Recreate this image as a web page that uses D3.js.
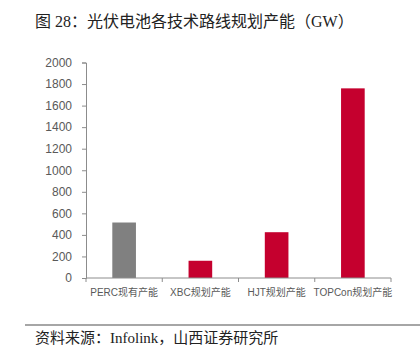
<!DOCTYPE html>
<html>
<head>
<meta charset="utf-8">
<script src="https://cdn.jsdelivr.net/npm/d3@7"></script>
<style>
  body { margin: 0; background: #fff; }
  svg { display: block; }
</style>
</head>
<body>
<div id="chart"></div>
<script>
// data
const categories = ["PERC现有产能", "XBC规划产能", "HJT规划产能", "TOPCon规划产能"];
const capacity = [515, 160, 425, 1760];
const barColors = ["#808080", "#c5002e", "#c5002e", "#c5002e"];
const yTicks = [0, 200, 400, 600, 800, 1000, 1200, 1400, 1600, 1800, 2000];

const width = 420, height = 351;
const plot = { left: 86, right: 391, top: 62.5, bottom: 278 };

const svg = d3.select("#chart").append("svg")
  .attr("width", width)
  .attr("height", height);

// titel
svg.append("text")
  .attr("x", 35).attr("y", 27)
  .attr("font-family", "'Liberation Serif', 'Noto Sans CJK SC', serif")
  .attr("font-size", 16)
  .attr("fill", "#222")
  .text("图 28：光伏电池各技术路线规划产能（GW）");

const x = d3.scaleBand()
  .domain(categories)
  .range([plot.left, plot.right])
  .paddingInner(0.69)
  .paddingOuter(0.345);

const y = d3.scaleLinear()
  .domain([0, 2000])
  .range([plot.bottom, plot.top]);

// bars
svg.selectAll("rect.bar")
  .data(categories)
  .enter().append("rect")
  .attr("class", "bar")
  .attr("x", d => x(d))
  .attr("width", x.bandwidth())
  .attr("y", (d, i) => y(capacity[i]))
  .attr("height", (d, i) => y(0) - y(capacity[i]))
  .attr("fill", (d, i) => barColors[i]);

// y-akse
const yAxis = svg.append("g")
  .attr("transform", "translate(" + plot.left + ",0)")
  .call(d3.axisLeft(y).tickValues(yTicks).tickFormat(d3.format("d")).tickSize(4).tickPadding(10));
yAxis.select(".domain").attr("stroke", "#8c8c8c");
yAxis.selectAll(".tick line").attr("stroke", "#8c8c8c");
yAxis.selectAll(".tick text")
  .attr("font-family", "'Liberation Sans', Arial, sans-serif")
  .attr("font-size", 12)
  .attr("fill", "#595959");

// x-akse, ticks between categories
const xAxis = svg.append("g")
  .attr("transform", "translate(0," + plot.bottom + ")");
xAxis.append("line")
  .attr("x1", plot.left).attr("x2", plot.right)
  .attr("stroke", "#8c8c8c");
const step = x.step();
const bounds = d3.range(categories.length + 1).map(i => plot.left + i * step);
xAxis.selectAll("line.tk")
  .data(bounds)
  .enter().append("line")
  .attr("class", "tk")
  .attr("x1", d => d).attr("x2", d => d)
  .attr("y1", 0).attr("y2", 4)
  .attr("stroke", "#8c8c8c");
xAxis.selectAll("text")
  .data(categories)
  .enter().append("text")
  .attr("x", d => x(d) + x.bandwidth() / 2)
  .attr("y", 17.5)
  .attr("text-anchor", "middle")
  .attr("font-family", "'Liberation Sans', 'Noto Sans CJK SC', sans-serif")
  .attr("font-size", 10)
  .attr("fill", "#595959")
  .text(d => d);

// kilde
svg.append("line")
  .attr("x1", 25).attr("x2", 420)
  .attr("y1", 325).attr("y2", 325)
  .attr("stroke", "#888")
  .attr("stroke-width", 1.5);
svg.append("text")
  .attr("x", 35).attr("y", 343)
  .attr("font-family", "'Liberation Serif', 'Noto Sans CJK SC', serif")
  .attr("font-size", 15)
  .attr("fill", "#222")
  .text("资料来源：Infolink，山西证券研究所");
</script>
</body>
</html>
